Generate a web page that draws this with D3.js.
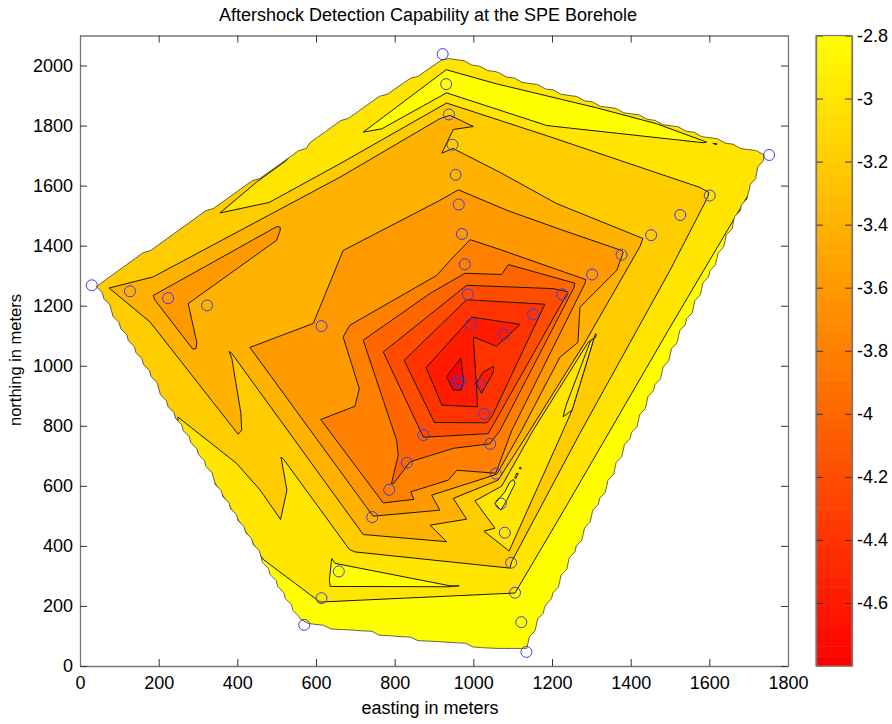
<!DOCTYPE html>
<html><head><meta charset="utf-8">
<script src="https://cdn.jsdelivr.net/npm/d3@7"></script>
<style>html,body{margin:0;padding:0;background:#fff}svg{display:block}
text{font-family:"Liberation Sans",Arial,sans-serif;fill:#000}</style>
</head><body><svg id="c" width="892" height="724"></svg>
<script>
const titleText = "Aftershock Detection Capability at the SPE Borehole";
const xLabel = "easting in meters", yLabel = "northing in meters";
const xTicks = [0,200,400,600,800,1000,1200,1400,1600,1800];
const yTicks = [0,200,400,600,800,1000,1200,1400,1600,1800,2000];
const cTicks = [-2.8,-3,-3.2,-3.4,-3.6,-3.8,-4,-4.2,-4.4,-4.6];

const stations = [[30,1268],[127,1248],[224,1225],[323,1201],[614,1132],[922,2038],[931,1938],[938,1837],[947,1736],[955,1636],[963,1537],[971,1439],[978,1338],[986,1238],[994,1138],[1078,1104],[1152,1171],[1226,1238],[1302,1304],[1377,1370],[1452,1435],[1526,1502],[1601,1567],[1752,1702],[959,948],[965,945],[1017,939],[1028,840],[873,769],[1043,740],[831,677],[1057,641],[786,587],[743,496],[1070,541],[1080,444],[1096,344],[1106,244],[1122,146],[1135,47],[658,315],[614,226],[570,137]];

const hull = [[43,1268],[318,1511],[745,1880],[932,2027],[1739,1704],[1691,1551],[1508,1052],[1271,419],[1131,57],[1060,57],[999,67],[928,80],[806,97],[745,110],[618,130],[562,150]];

const regionA = [[465,356],[478,343],[603,220],[610,213],[1106,243],[1220,496],[1500,1128],[1691,1551],[1767,1717],[930,2050],[25,1268]];
const topIsland = [[720,1778],[931,1986],[1059,1939],[1314,1859],[1466,1806],[1593,1745],[1584,1743],[1187,1800],[932,1909],[767,1789]];
const topSpeck = [[1609,1741],[1620,1739],[1617,1736]];
const lowIsland = [[640,358],[648,342],[941,267],[964,267],[938,264],[636,265],[634,286]];
const regionB = [[249,829],[398,675],[458,586],[510,488],[526,586],[511,696],[519,686],[685,388],[699,380],[1093,326],[1098,349],[1271,775],[1500,1318],[1597,1564],[1599,1577],[1576,1594],[1185,1767],[932,1875],[661,1673],[481,1544],[356,1509],[449,1612],[525,1684],[542,1717],[13,1268],[249,802]];
const speckB = [[877,1678],[882,1677],[875,1676]];
const regionC = [[74,1259],[186,1296],[661,1628],[915,1823],[941,1834],[1000,1797],[949,1787],[920,1708],[948,1724],[1068,1644],[1212,1540],[1431,1424],[1424,1398],[1284,1078],[1144,785],[1063,619],[949,558],[983,489],[890,469],[932,414],[720,438],[386,1041],[379,1048],[386,1025],[409,842],[411,785],[402,772],[178,1146]];
const wedge = [[1004,550],[1072,599],[1152,785],[1292,1078],[1307,1092],[1251,852],[1215,745],[1091,383],[1027,449],[1055,459]];
const sliver = [[1298,1083],[1307,1092],[1251,852],[1228,830],[1236,869]];
const islet = [[1102,621],[1106,608],[1085,552],[1070,519],[1055,541],[1080,580],[1093,613]];
const speck1 = [[1105,626],[1110,642],[1114,641],[1108,624]];
const speck2 = [[1116,659],[1121,662],[1121,656]];
const speck3 = [[1307,1095],[1311,1107],[1313,1102],[1309,1092]];
const westLobe = [[186,1234],[501,1464],[509,1461],[509,1451],[500,1418],[275,1207],[297,1078],[295,1058],[287,1055],[191,1218]];
const regionD = [[432,1061],[593,1141],[669,1384],[678,1390],[915,1551],[962,1586],[1085,1518],[1228,1451],[1377,1384],[1381,1378],[1365,1318],[1271,1195],[1266,1078],[1220,1028],[1123,785],[1060,639],[1030,626],[894,569],[915,519],[745,499]];
const regionE = [[612,821],[699,865],[710,924],[669,1096],[686,1135],[907,1301],[941,1351],[992,1420],[1068,1387],[1286,1287],[1284,1275],[1098,785],[1057,642],[958,652],[936,619],[841,580],[849,555],[771,543]];
const regionF = [[720,1085],[890,1241],[979,1308],[1072,1304],[1089,1337],[1258,1275],[1256,1261],[1068,785],[1042,740],[949,725],[839,680],[796,606],[792,608],[809,702],[805,752]];
const regionG = [[771,1046],[983,1268],[1203,1257],[1241,1246],[1038,774],[873,762]];
const regionH = [[824,1018],[983,1220],[1182,1205],[1047,830],[1034,810],[901,811]];
const regionI = [[880,994],[996,1162],[1119,1138],[1059,1065],[1000,1096],[1011,863],[920,869]];
const innerEast = [[1009,946],[1025,979],[1051,998],[1051,979],[1021,908],[1009,935]];
const regionJ = [[932,963],[968,1026],[975,952],[970,919],[949,919]];

const layers = [
  [-3.0,regionA],[-2.8,topIsland],[-2.8,topSpeck],[-2.8,lowIsland],
  [-3.2,regionB],[-3.4,speckB],[-3.4,regionC],[-3.0,wedge],[-3.0,sliver],
  [-2.8,islet],[-2.8,speck1],[-2.8,speck2],[-3.0,speck3],
  [-3.6,westLobe],[-3.6,regionD],[-3.8,regionE],[-4.0,regionF],[-4.2,regionG],
  [-4.4,regionH],[-4.6,regionI],[-4.6,innerEast],[-4.8,regionJ]
];

const svg = d3.select("#c");
const plot = {l:80,r:788,t:35.5,b:666};
const x = d3.scaleLinear().domain([0,1800]).range([plot.l,plot.r]);
const y = d3.scaleLinear().domain([0,2100]).range([plot.b,plot.t]);
const cScale = d3.scaleLinear().domain([-4.8,-2.8]).range([plot.b,plot.t]);
const cmap = d3.scaleLinear().domain([-4.8,-2.8]).range(["#ff0000","#ffff00"]);
const line = d3.line().x(d=>x(d[0])).y(d=>y(d[1])).curve(d3.curveLinearClosed);

// griddata mesh step: the filled hull edge follows the interpolation grid
const gridStep = 20, gridPull = 0.55;
function gridEdge(poly){
  const out=[];
  poly.forEach((a,i)=>{
    const b=poly[(i+1)%poly.length];
    const n=Math.max(1,Math.ceil(Math.max(Math.abs(b[0]-a[0]),Math.abs(b[1]-a[1]))/gridStep));
    for(let k=0;k<n;k++){
      const px=a[0]+(b[0]-a[0])*k/n, py=a[1]+(b[1]-a[1])*k/n;
      out.push([px+(Math.round(px/gridStep)*gridStep-px)*gridPull,py+(Math.round(py/gridStep)*gridStep-py)*gridPull]);
    }
  });
  return out;
}
const edge = gridEdge(hull);
svg.append("clipPath").attr("id","hullClip").append("path").attr("d",line(edge));

const field = svg.append("g").attr("clip-path","url(#hullClip)");
field.append("path").attr("d",line(edge)).attr("fill",cmap(-2.8));
field.selectAll("path.lv").data(layers).join("path").attr("class","lv")
  .attr("d",d=>line(d[1])).attr("fill",d=>cmap(d[0]))
  .attr("stroke","#1c1800").attr("stroke-width",1).attr("stroke-linejoin","round");
svg.append("path").attr("d",line(edge)).attr("fill","none").attr("stroke","#55503a").attr("stroke-width",0.9);

svg.append("g").selectAll("circle").data(stations).join("circle")
  .attr("cx",d=>x(d[0])).attr("cy",d=>y(d[1])).attr("r",5.5)
  .attr("fill","none").attr("stroke","#3c3cf0").attr("stroke-width",1);

function styleAxis(g,size){
  g.selectAll(".domain").attr("stroke","#777").attr("stroke-width",1.3);
  g.selectAll(".tick line").attr("stroke","#333").attr("stroke-width",1);
  g.selectAll(".tick text").style("font-size",size+"px").attr("fill","#000");
}
const tickFont = 18;
const ax = svg.append("g");
ax.append("g").attr("transform",`translate(0,${plot.b})`)
  .call(d3.axisBottom(x).tickValues(xTicks).tickFormat(d3.format("d")).tickSizeInner(-7).tickSizeOuter(0).tickPadding(10)).call(styleAxis,tickFont);
ax.append("g").attr("transform",`translate(0,${plot.t})`)
  .call(d3.axisTop(x).tickValues(xTicks).tickFormat("").tickSizeInner(-7).tickSizeOuter(0)).call(styleAxis,tickFont);
ax.append("g").attr("transform",`translate(${plot.l},0)`)
  .call(d3.axisLeft(y).tickValues(yTicks).tickFormat(d3.format("d")).tickSizeInner(-7).tickSizeOuter(0).tickPadding(7)).call(styleAxis,tickFont);
ax.append("g").attr("transform",`translate(${plot.r},0)`)
  .call(d3.axisRight(y).tickValues(yTicks).tickFormat("").tickSizeInner(-7).tickSizeOuter(0)).call(styleAxis,tickFont);

const bar = {l:816,r:852};
const steps = d3.range(64);
const stepV = i => -4.8 + 2*(i+0.5)/64;
svg.append("g").selectAll("rect").data(steps).join("rect")
  .attr("x",bar.l).attr("width",bar.r-bar.l)
  .attr("y",i=>cScale(-4.8+2*(i+1)/64)).attr("height",i=>cScale(-4.8+2*i/64)-cScale(-4.8+2*(i+1)/64)+0.5)
  .attr("fill",i=>cmap(stepV(i)));
const cAx = svg.append("g");
cAx.append("g").attr("transform",`translate(${bar.r},0)`)
  .call(d3.axisRight(cScale).tickValues(cTicks).tickFormat(d=>String(d)).tickSizeInner(-7).tickSizeOuter(0).tickPadding(5)).call(styleAxis,tickFont);
cAx.append("g").attr("transform",`translate(${bar.l},0)`)
  .call(d3.axisLeft(cScale).tickValues(cTicks).tickFormat("").tickSizeInner(-7).tickSizeOuter(0)).call(styleAxis,tickFont);
svg.append("rect").attr("x",bar.l).attr("y",plot.t).attr("width",bar.r-bar.l).attr("height",plot.b-plot.t)
  .attr("fill","none").attr("stroke","#777").attr("stroke-width",1.2);

svg.append("text").attr("x",428).attr("y",21).attr("text-anchor","middle").style("font-size","18px").text(titleText);
svg.append("text").attr("x",430).attr("y",714).attr("text-anchor","middle").style("font-size","18px").text(xLabel);
svg.append("text").attr("transform","translate(21,360) rotate(-90)").attr("text-anchor","middle").style("font-size","16.5px").text(yLabel);
</script></body></html>
